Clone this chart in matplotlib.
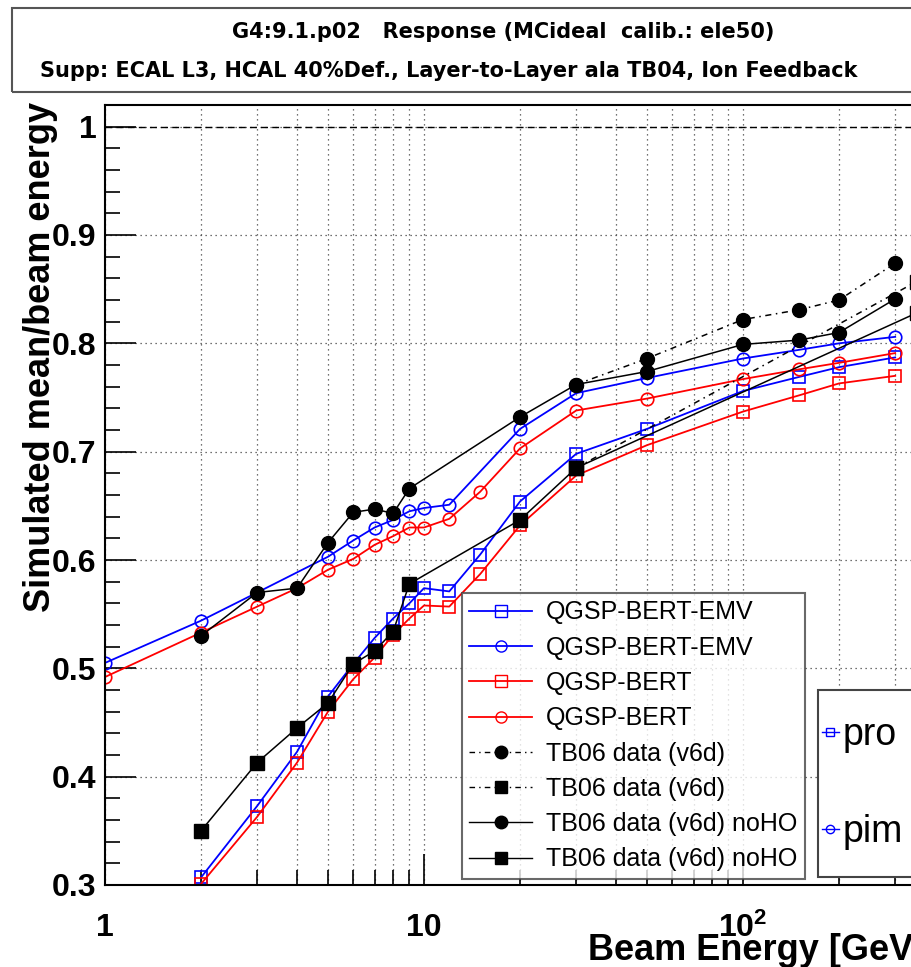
import matplotlib
matplotlib.use("Agg")
import matplotlib.pyplot as plt
from matplotlib.ticker import FixedLocator, LogLocator, MultipleLocator, NullFormatter
from matplotlib.lines import Line2D
from matplotlib.patches import Rectangle

plt.rcParams['font.family'] = ['Liberation Sans', 'DejaVu Sans']
plt.rcParams['mathtext.fontset'] = 'custom'
plt.rcParams['mathtext.bf'] = 'Liberation Sans:bold'
plt.rcParams['mathtext.rm'] = 'Liberation Sans'

# ---- data ----
E_pro_emv = [2, 3, 4, 5, 6, 7, 8, 9, 10, 12, 15, 20, 30, 50, 100, 150, 200, 300]
r_pro_emv = [0.307, 0.373, 0.423, 0.474, 0.504, 0.528, 0.546, 0.560, 0.574, 0.571,
             0.605, 0.654, 0.698, 0.721, 0.756, 0.769, 0.778, 0.787]

E_pim_emv = [1, 2, 3, 5, 6, 7, 8, 9, 10, 12, 20, 30, 50, 100, 150, 200, 300]
r_pim_emv = [0.505, 0.544, 0.570, 0.603, 0.618, 0.630, 0.637, 0.645, 0.648, 0.651,
             0.721, 0.754, 0.768, 0.786, 0.794, 0.800, 0.806]

E_pro_bert = [2, 3, 4, 5, 6, 7, 8, 9, 10, 12, 15, 20, 30, 50, 100, 150, 200, 300]
r_pro_bert = [0.301, 0.363, 0.413, 0.460, 0.490, 0.510, 0.531, 0.546, 0.558, 0.557,
              0.587, 0.632, 0.678, 0.706, 0.737, 0.752, 0.763, 0.770]

E_pim_bert = [1, 2, 3, 4, 5, 6, 7, 8, 9, 10, 12, 15, 20, 30, 50, 100, 150, 200, 300]
r_pim_bert = [0.492, 0.533, 0.557, 0.574, 0.591, 0.601, 0.614, 0.622, 0.630, 0.630,
              0.638, 0.663, 0.703, 0.738, 0.749, 0.767, 0.776, 0.782, 0.791]

E_tb_pim = [30, 50, 100, 150, 200, 300]
r_tb_pim = [0.762, 0.786, 0.822, 0.831, 0.840, 0.874]

E_tb_pro = [30, 350]
r_tb_pro = [0.685, 0.857]

E_tb_pim_noho = [2, 3, 4, 5, 6, 7, 8, 9, 20, 30, 50, 100, 150, 200, 300]
r_tb_pim_noho = [0.530, 0.570, 0.574, 0.616, 0.644, 0.647, 0.643, 0.666, 0.732,
                 0.762, 0.774, 0.799, 0.803, 0.810, 0.841]

E_tb_pro_noho = [2, 3, 4, 5, 6, 7, 8, 9, 20, 30, 350]
r_tb_pro_noho = [0.350, 0.413, 0.445, 0.468, 0.504, 0.516, 0.534, 0.578, 0.637, 0.685, 0.828]

legend_labels = ['QGSP-BERT-EMV', 'QGSP-BERT-EMV', 'QGSP-BERT', 'QGSP-BERT',
                 'TB06 data (v6d)', 'TB06 data (v6d)',
                 'TB06 data (v6d) noHO', 'TB06 data (v6d) noHO']
y_ticks = [0.3, 0.4, 0.5, 0.6, 0.7, 0.8, 0.9, 1.0]
y_ticklabels = ['0.3', '0.4', '0.5', '0.6', '0.7', '0.8', '0.9', '1']
x_ticks = [1, 10, 100, 1000]
x_ticklabels = ['1', '10', r'$\mathbf{10^{2}}$', r'$\mathbf{10^{3}}$']

W, H = 912, 967
fig = plt.figure(figsize=(W / 100, H / 100), dpi=100)
ax = fig.add_axes([105 / W, 1 - 885 / H, 957 / W, 780 / H])
ax.set_xscale('log')

dashdot = (0, (4, 3, 1, 3))
lw = 1.3
blue = '#0000ff'
red = '#ff0000'

ax.plot(E_pro_emv, r_pro_emv, color=blue, lw=lw, marker='s', ms=9, mfc='none', mew=1.2)
ax.plot(E_pim_emv, r_pim_emv, color=blue, lw=lw, marker='o', ms=9, mfc='none', mew=1.2)
ax.plot(E_pro_bert, r_pro_bert, color=red, lw=lw, marker='s', ms=9, mfc='none', mew=1.2)
ax.plot(E_pim_bert, r_pim_bert, color=red, lw=lw, marker='o', ms=9, mfc='none', mew=1.2)
ax.plot(E_tb_pim, r_tb_pim, color='black', lw=1.1, ls=dashdot, marker='o', ms=10)
ax.plot(E_tb_pro, r_tb_pro, color='black', lw=1.1, ls=dashdot, marker='s', ms=10)
ax.plot(E_tb_pim_noho, r_tb_pim_noho, color='black', lw=1.1, marker='o', ms=10)
ax.plot(E_tb_pro_noho, r_tb_pro_noho, color='black', lw=1.1, marker='s', ms=10)

ax.axhline(1.0, color='black', lw=1.0, ls=(0, (5, 3)))

ax.set_xlim(1, 1000)
ax.set_ylim(0.3, 1.02)
ax.xaxis.set_major_locator(FixedLocator(x_ticks))
ax.set_xticklabels(x_ticklabels)
ax.xaxis.set_minor_locator(LogLocator(base=10, subs=range(2, 10), numticks=50))
ax.xaxis.set_minor_formatter(NullFormatter())
ax.yaxis.set_major_locator(FixedLocator(y_ticks))
ax.set_yticklabels(y_ticklabels)
ax.yaxis.set_minor_locator(MultipleLocator(0.02))

ax.tick_params(which='both', direction='in', top=False, right=False, width=1.2)
ax.tick_params(which='major', length=22)
ax.tick_params(which='minor', length=11)
ax.tick_params(axis='x', pad=20, labelsize=23)
ax.tick_params(axis='y', pad=6, labelsize=23)
for t in ax.get_xticklabels() + ax.get_yticklabels():
    t.set_fontweight('bold')

grid_ls = (0, (1, 3))
ax.grid(which='major', axis='both', ls=grid_ls, color='#444444', lw=0.9)
ax.grid(which='minor', axis='x', ls=grid_ls, color='#444444', lw=0.9)
for s in ax.spines.values():
    s.set_linewidth(1.5)

# title box
fig.patches.append(Rectangle((12 / W, 1 - 92 / H), 1.0, 84 / H, transform=fig.transFigure,
                             fill=False, edgecolor='#555555', lw=1.5))
fig.text(232 / W, 1 - 32 / H, 'G4:9.1.p02   Response (MCideal  calib.: ele50)',
         ha='left', va='center', fontsize=15, fontweight='bold', family='DejaVu Sans')
fig.text(40 / W, 1 - 71 / H, 'Supp: ECAL L3, HCAL 40%Def., Layer-to-Layer ala TB04, Ion Feedback',
         ha='left', va='center', fontsize=15, fontweight='bold', family='DejaVu Sans')

fig.text(41 / W, 1 - 357 / H, 'Simulated mean/beam energy', rotation=90,
         ha='center', va='center', fontsize=26, fontweight='bold')
fig.text(588 / W, 1 - 950 / H, 'Beam Energy [GeV]', ha='left', va='center',
         fontsize=26, fontweight='bold')

# legends
handles = [
    Line2D([], [], color=blue, lw=lw, marker='s', ms=8, mfc='none'),
    Line2D([], [], color=blue, lw=lw, marker='o', ms=8, mfc='none'),
    Line2D([], [], color=red, lw=lw, marker='s', ms=8, mfc='none'),
    Line2D([], [], color=red, lw=lw, marker='o', ms=8, mfc='none'),
    Line2D([], [], color='black', lw=1.0, ls=dashdot, marker='o', ms=9),
    Line2D([], [], color='black', lw=1.0, ls=dashdot, marker='s', ms=9),
    Line2D([], [], color='black', lw=1.0, marker='o', ms=9),
    Line2D([], [], color='black', lw=1.0, marker='s', ms=9),
]
leg1 = fig.legend(handles, legend_labels, loc='upper left', bbox_to_anchor=(462 / W, 1 - 593 / H),
                  fontsize=18, frameon=True, fancybox=False, edgecolor='#444444',
                  handlelength=2.5, handletextpad=0.55, labelspacing=0.45,
                  borderpad=0.3, borderaxespad=0)
leg1.get_frame().set_linewidth(1.5)

# pro / pim box
fig.patches.append(Rectangle((818 / W, 1 - 877 / H), 0.2, 187 / H, transform=fig.transFigure,
                             fill=True, facecolor='white', edgecolor='#444444', lw=1.5, zorder=4))
h2 = [Line2D([], [], color=blue, lw=1.0, marker='s', ms=6, mfc='none'),
      Line2D([], [], color=blue, lw=1.0, marker='o', ms=6, mfc='none')]
leg2 = fig.legend(h2, ['pro', 'pim'], loc='upper left', bbox_to_anchor=(818 / W, 1 - 713 / H),
                  fontsize=27, frameon=False, handlelength=0.45, handletextpad=0.1,
                  labelspacing=1.63, borderpad=0.1, borderaxespad=0)
leg2.set_zorder(6)

fig.savefig('out.png', dpi=100)
